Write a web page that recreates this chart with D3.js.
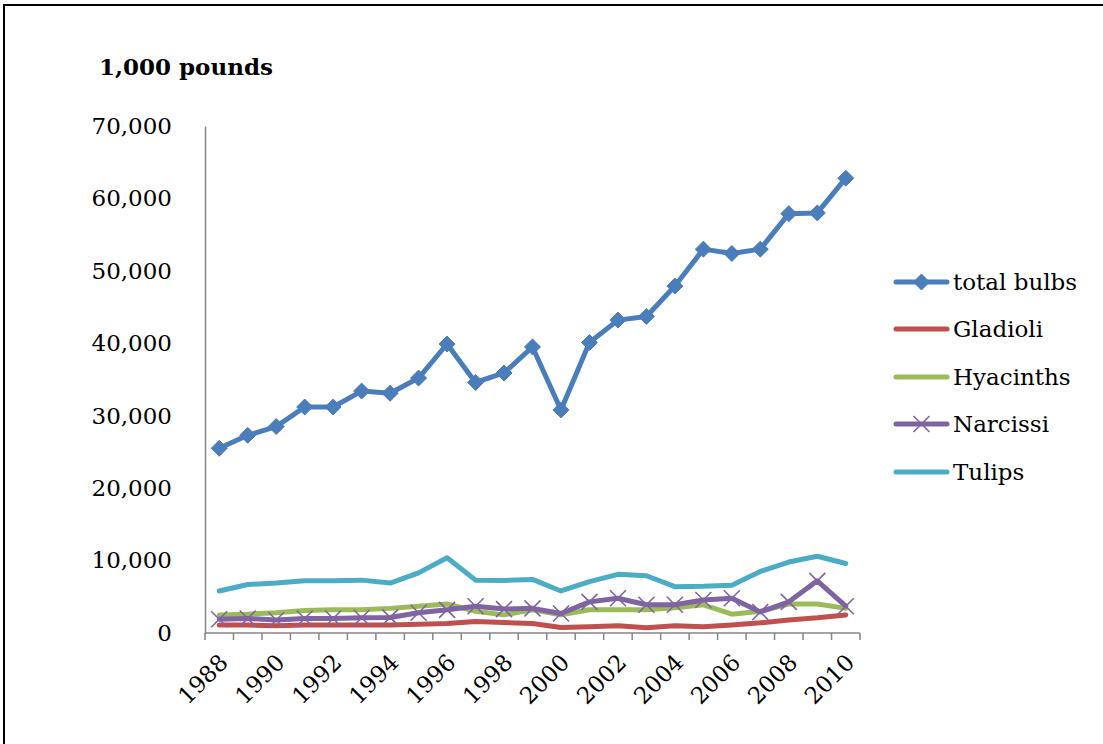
<!DOCTYPE html>
<html><head><meta charset="utf-8">
<script src="https://cdn.jsdelivr.net/npm/d3@7"></script>
<style>body{margin:0;background:#fff;} svg{display:block;}</style>
</head><body>
<svg id="c" width="1103" height="744"></svg>
<script>
const years = d3.range(1988, 2011).map(String);
const yTicks = [0, 10000, 20000, 30000, 40000, 50000, 60000, 70000];
const seriesNames = ["total bulbs", "Gladioli", "Hyacinths", "Narcissi", "Tulips"];
const seriesColors = ["#4A7EBB", "#C0504D", "#9BBB59", "#8064A2", "#4BACC6"];
const totalBulbs = [25500, 27300, 28500, 31200, 31200, 33400, 33100, 35200, 39900, 34600, 35900, 39500, 30800, 40100, 43200, 43700, 47900, 53000, 52400, 53000, 57900, 58000, 62800];
const gladioli = [1100, 1100, 1000, 1100, 1100, 1100, 1100, 1200, 1300, 1600, 1450, 1300, 750, 870, 1000, 730, 1000, 870, 1100, 1400, 1800, 2100, 2500];
const hyacinths = [2500, 2600, 2800, 3100, 3200, 3200, 3400, 3700, 4000, 3000, 2500, 3200, 2500, 3200, 3200, 3200, 3500, 3900, 2600, 3000, 4000, 4000, 3400];
const narcissi = [1900, 2000, 1800, 2000, 2000, 2100, 2150, 2800, 3200, 3700, 3300, 3400, 2700, 4300, 4800, 3900, 3900, 4550, 4800, 2900, 4300, 7200, 3700];
const tulips = [5800, 6700, 6900, 7200, 7200, 7300, 6900, 8300, 10400, 7300, 7250, 7400, 5800, 7100, 8100, 7900, 6400, 6450, 6600, 8500, 9800, 10600, 9600];
const seriesValues = [totalBulbs, gladioli, hyacinths, narcissi, tulips];
const markers = ["diamond", null, null, "x", null];

const svg = d3.select("#c");
const FONT = "DejaVu Serif";
const FS = 23;

// outer border
svg.append("rect").attr("x", 4).attr("y", 5).attr("width", 1120).attr("height", 760)
  .attr("fill", "none").attr("stroke", "#000").attr("stroke-width", 2);

const x0 = 205, x1 = 860, y0 = 633, y1 = 126;
const x = d3.scaleBand().domain(years).range([x0, x1]);
const y = d3.scaleLinear().domain([0, 70000]).range([y0, y1]);

// title
svg.append("text").attr("x", 99).attr("y", 75).attr("font-family", FONT).attr("font-size", FS)
  .attr("font-weight", "bold").attr("fill", "#000").text("1,000 pounds");

// y axis
const yAxis = d3.axisLeft(y).tickValues(yTicks).tickSize(0).tickPadding(33)
  .tickFormat(d3.format(","));
const gy = svg.append("g").attr("transform", `translate(${x0},0)`).call(yAxis);
gy.select(".domain").attr("stroke", "#868686").attr("stroke-width", 1.5);
gy.selectAll("text").attr("font-family", FONT).attr("font-size", FS).attr("fill", "#000");

// x axis
const xTickPos = d3.range(years.length + 1).map(i => x0 + i * x.step());
const gx = svg.append("g").attr("transform", `translate(0,${y0})`);
gx.append("line").attr("x1", x0).attr("x2", x1).attr("y1", 0).attr("y2", 0)
  .attr("stroke", "#868686").attr("stroke-width", 1.5);
gx.selectAll("line.t").data(xTickPos).join("line").attr("class", "t")
  .attr("x1", d => d).attr("x2", d => d).attr("y1", 0).attr("y2", 7)
  .attr("stroke", "#868686").attr("stroke-width", 1.5);
gx.selectAll("text").data(years.filter((d, i) => i % 2 === 0)).join("text")
  .attr("transform", d => `translate(${x(d) + x.bandwidth() / 2 + 10},${31}) rotate(-45)`)
  .attr("text-anchor", "end").attr("font-family", FONT).attr("font-size", FS).attr("fill", "#000")
  .text(d => d);

const cx = d => x(d) + x.bandwidth() / 2;
const line = d3.line().x((d, i) => cx(years[i])).y(d => y(d));

function drawMarker(g, type, px, py, color) {
  if (type === "diamond") {
    const r = 8;
    g.append("path").attr("d", `M${px},${py - r}L${px + r},${py}L${px},${py + r}L${px - r},${py}Z`)
      .attr("fill", color).attr("stroke", color).attr("stroke-width", 1);
  } else if (type === "x") {
    const r = 8;
    g.append("path").attr("d", `M${px - r},${py - r}L${px + r},${py + r}M${px - r},${py + r}L${px + r},${py - r}`)
      .attr("stroke", color).attr("stroke-width", 1.6).attr("fill", "none");
  }
}

seriesValues.forEach((vals, si) => {
  const g = svg.append("g");
  g.append("path").datum(vals).attr("d", line).attr("fill", "none")
    .attr("stroke", seriesColors[si]).attr("stroke-width", 5)
    .attr("stroke-linejoin", "round").attr("stroke-linecap", "round");
  if (markers[si]) vals.forEach((v, i) => drawMarker(g, markers[si], cx(years[i]), y(v), seriesColors[si]));
});

// legend
const legY = [282, 329, 377, 424, 472];
seriesNames.forEach((n, i) => {
  const g = svg.append("g");
  g.append("line").attr("x1", 896).attr("x2", 947).attr("y1", legY[i]).attr("y2", legY[i])
    .attr("stroke", seriesColors[i]).attr("stroke-width", 5).attr("stroke-linecap", "round");
  if (markers[i]) drawMarker(g, markers[i], 921.5, legY[i], seriesColors[i]);
  g.append("text").attr("x", 953).attr("y", legY[i] + 8).attr("font-family", FONT).attr("font-size", FS)
    .attr("fill", "#000").text(n);
});
</script>
</body></html>
